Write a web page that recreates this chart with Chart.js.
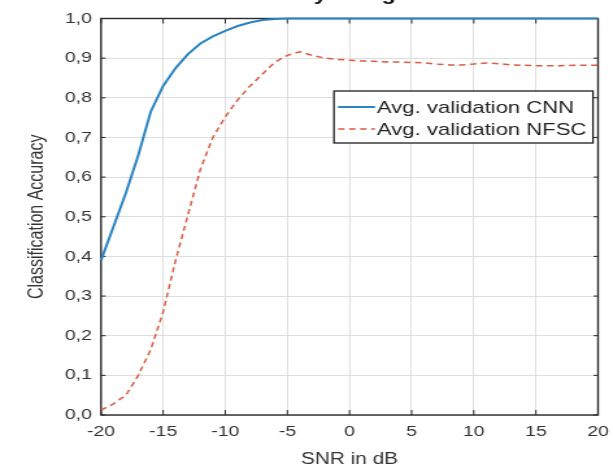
<!DOCTYPE html>
<html>
<head>
<meta charset="utf-8">
<script src="https://cdn.jsdelivr.net/npm/chart.js@4/dist/chart.umd.min.js"></script>
<style>
  html, body { margin: 0; padding: 0; background: #ffffff; overflow: hidden; width: 613px; height: 469px; }
  #wrap { position: absolute; left: 0; top: -30px; width: 472px; height: 499px;
          transform: scaleX(1.29873); transform-origin: 0 0; }
  canvas { display: block; background: #ffffff; }
</style>
</head>
<body>
<div id="wrap"><canvas id="chart" width="472" height="499"></canvas></div>
<script>
// SNR sweep (dB) and averaged validation accuracy of both classifiers
const snrDb = [-20, -19, -18, -17, -16, -15, -14, -13, -12, -11, -10, -9, -8, -7, -6, -5, -4, -3, -2, -1,
               0, 1, 2, 3, 4, 5, 6, 7, 8, 9, 10, 11, 12, 13, 14, 15, 16, 17, 18, 19, 20];
const cnnAccuracy = [0.39, 0.475, 0.56, 0.655, 0.765, 0.83, 0.875, 0.91, 0.937, 0.955, 0.969, 0.981, 0.99, 0.996, 0.999,
                     1.0, 1.0, 1.0, 1.0, 1.0, 1.0, 1.0, 1.0, 1.0, 1.0, 1.0, 1.0, 1.0, 1.0, 1.0,
                     1.0, 1.0, 1.0, 1.0, 1.0, 1.0, 1.0, 1.0, 1.0, 1.0, 1.0];
const nfscAccuracy = [0.012, 0.028, 0.05, 0.10, 0.165, 0.26, 0.39, 0.505, 0.62, 0.70, 0.752, 0.795, 0.83, 0.86, 0.89,
                      0.907, 0.916, 0.907, 0.90, 0.897, 0.895, 0.893, 0.892, 0.89, 0.89, 0.889, 0.888, 0.885, 0.883, 0.883,
                      0.885, 0.888, 0.886, 0.883, 0.882, 0.881, 0.881, 0.881, 0.882, 0.882, 0.882];
const seriesNames = ['Avg. validation CNN', 'Avg. validation NFSC'];
const xTickLabels = ['-20', '-15', '-10', '-5', '0', '5', '10', '15', '20'];
const yTickLabels = ['0,0', '0,1', '0,2', '0,3', '0,4', '0,5', '0,6', '0,7', '0,8', '0,9', '1,0'];
const titleText = 'Accuracy using SNR';
const xAxisTitle = 'SNR in dB';
const yAxisTitle = 'Classification Accuracy';

const FONT = "'Liberation Sans', Arial, sans-serif";
const TEXT = '#333333';

// Chart title, axes box with inward ticks, and the in-plot legend
const frame = {
  id: 'frame',
  beforeDatasetsDraw(chart) {
    const { ctx, chartArea: a, scales: { x, y } } = chart;
    ctx.save();
    ctx.strokeStyle = '#262626';
    ctx.lineWidth = 1;
    ctx.beginPath();
    x.ticks.forEach(t => {
      const px = x.getPixelForValue(t.value);
      ctx.moveTo(px, a.bottom); ctx.lineTo(px, a.bottom - 5);
      ctx.moveTo(px, a.top); ctx.lineTo(px, a.top + 5);
    });
    y.ticks.forEach(t => {
      const py = y.getPixelForValue(t.value);
      ctx.moveTo(a.left, py); ctx.lineTo(a.left + 3.5, py);
      ctx.moveTo(a.right, py); ctx.lineTo(a.right - 3.5, py);
    });
    ctx.stroke();
    ctx.lineWidth = 1.4;
    ctx.strokeStyle = '#2a2a2a';
    ctx.strokeRect(a.left, a.top, a.right - a.left, a.bottom - a.top);
    ctx.restore();
  },
  afterDatasetsDraw(chart) {
    const { ctx, chartArea: a } = chart;
    ctx.save();
    // title above the axes
    ctx.font = 'bold 18px ' + FONT;
    ctx.fillStyle = '#111111';
    ctx.textAlign = 'center';
    ctx.textBaseline = 'alphabetic';
    ctx.fillText(titleText, (a.left + a.right) / 2 - 10, 29.5);

    // legend box
    const bx = 257.2, by = 121, bw = 199.4, bh = 52;
    ctx.fillStyle = '#ffffff';
    ctx.fillRect(bx, by, bw, bh);
    ctx.lineWidth = 1.3;
    ctx.strokeStyle = '#1e1e1e';
    ctx.strokeRect(bx, by, bw, bh);
    const rows = [137, 159];
    chart.data.datasets.forEach((ds, i) => {
      ctx.beginPath();
      ctx.strokeStyle = ds.borderColor;
      ctx.lineWidth = ds.borderWidth;
      ctx.setLineDash(ds.borderDash || []);
      ctx.moveTo(260.3, rows[i]);
      ctx.lineTo(288.8, rows[i]);
      ctx.stroke();
      ctx.setLineDash([]);
      ctx.font = '17px ' + FONT;
      ctx.fillStyle = '#222222';
      ctx.textAlign = 'left';
      ctx.textBaseline = 'middle';
      ctx.fillText(ds.label, 290.3, rows[i] + 1);
    });
    ctx.restore();
  }
};

new Chart(document.getElementById('chart'), {
  type: 'line',
  data: {
    datasets: [
      {
        label: seriesNames[0],
        data: snrDb.map((s, i) => ({ x: s, y: cnnAccuracy[i] })),
        borderColor: '#2b84c2',
        borderWidth: 2,
        pointRadius: 0,
        tension: 0,
        clip: 6
      },
      {
        label: seriesNames[1],
        data: snrDb.map((s, i) => ({ x: s, y: nfscAccuracy[i] })),
        borderColor: '#dc5a42',
        borderWidth: 1.5,
        borderDash: [5, 3.5],
        pointRadius: 0,
        tension: 0,
        clip: 6
      }
    ]
  },
  options: {
    responsive: false,
    animation: false,
    events: [],
    layout: { padding: { left: 0, right: 11.5, top: 48.5, bottom: 0 } },
    plugins: { legend: { display: false }, tooltip: { enabled: false }, title: { display: false } },
    scales: {
      x: {
        type: 'linear',
        min: -20,
        max: 20,
        ticks: {
          stepSize: 5,
          autoSkip: false,
          maxRotation: 0,
          padding: 8,
          color: TEXT,
          font: { family: FONT, size: 15 },
          callback: (v, i) => xTickLabels[i]
        },
        grid: { color: '#dedede', lineWidth: 1, drawTicks: false },
        border: { display: false },
        title: { display: true, text: xAxisTitle, color: TEXT, font: { family: FONT, size: 16 }, padding: { top: 0, bottom: 0 } },
        afterFit(scale) { scale.height = 54; scale.paddingLeft = 0; scale.paddingRight = 0; }
      },
      y: {
        type: 'linear',
        min: 0,
        max: 1,
        ticks: {
          stepSize: 0.1,
          autoSkip: false,
          padding: 7,
          color: TEXT,
          font: { family: FONT, size: 15 },
          callback: (v, i) => yTickLabels[i]
        },
        grid: { color: '#dedede', lineWidth: 1, drawTicks: false },
        border: { display: false },
        title: { display: true, text: yAxisTitle, color: TEXT, font: { family: FONT, size: 16 }, padding: { top: 19, bottom: 0 } },
        afterFit(scale) { scale.width = 77.8; scale.paddingTop = 0; scale.paddingBottom = 0; }
      }
    }
  },
  plugins: [frame]
});
</script>
</body>
</html>
